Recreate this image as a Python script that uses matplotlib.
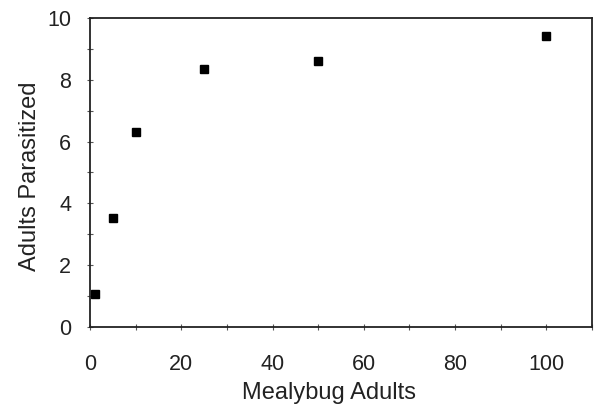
import matplotlib
matplotlib.use('Agg')
from matplotlib import pyplot as plt
from matplotlib.ticker import MultipleLocator

plt.rcParams['font.family'] = ['Liberation Sans', 'DejaVu Sans']

mealybug_adults = [1, 5, 10, 25, 50, 100]
adults_parasitized = [1.07, 3.52, 6.32, 8.35, 8.6, 9.43]

fig = plt.figure(figsize=(5.94, 4.09), dpi=100)
ax = fig.add_axes([0.1515, 0.2005, 0.845, 0.7555])

ax.plot(mealybug_adults, adults_parasitized, linestyle='none', marker='s',
        markersize=6, color='black', clip_on=False)

ax.set_xlim(0, 110)
ax.set_ylim(0, 10)
ax.xaxis.set_major_locator(MultipleLocator(20))
ax.xaxis.set_minor_locator(MultipleLocator(10))
ax.yaxis.set_major_locator(MultipleLocator(2))
ax.yaxis.set_minor_locator(MultipleLocator(1))

for s in ax.spines.values():
    s.set_linewidth(1.3)
    s.set_color('#222222')

ax.tick_params(which='both', direction='inout', length=5, width=0.8, color='#555555')
ax.tick_params(axis='x', which='major', labelsize=15.5, pad=17, labelcolor='#222222')
ax.tick_params(axis='y', which='major', labelsize=15.5, pad=11, labelcolor='#222222')

ax.set_xlabel('Mealybug Adults', fontsize=17, color='#222222')
ax.xaxis.set_label_coords(0.477, -0.178)
ax.set_ylabel('Adults Parasitized', fontsize=17, color='#222222')
ax.yaxis.set_label_coords(-0.098, 0.488)

fig.savefig('out.png', dpi=100)
